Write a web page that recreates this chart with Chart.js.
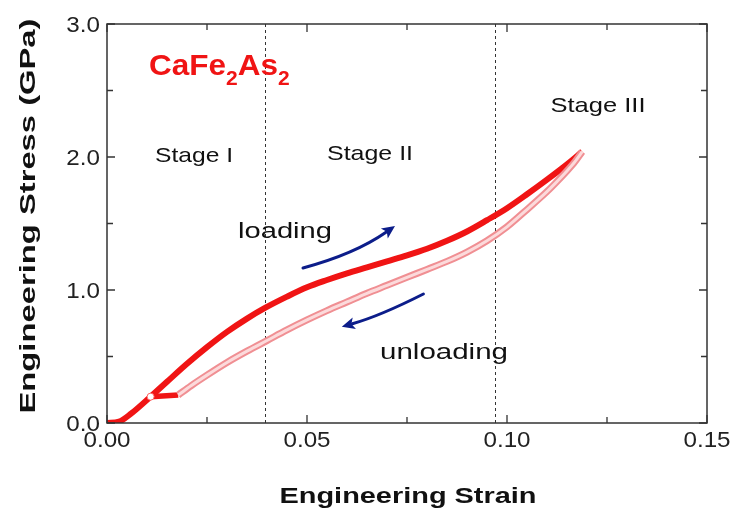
<!DOCTYPE html>
<html>
<head>
<meta charset="utf-8">
<script src="https://cdn.jsdelivr.net/npm/chart.js@4/dist/chart.umd.min.js"></script>
<style>
  html, body { margin: 0; padding: 0; background: #fff; }
  #wrap { width: 734px; height: 515px; }
</style>
</head>
<body>
<div id="wrap"><canvas id="curve" width="734" height="515"></canvas></div>
<script>
// Engineering stress-strain, loading branch (GPa vs strain)
const loadStrain = [0, 0.003, 0.006, 0.0109, 0.015, 0.020, 0.025, 0.030, 0.035, 0.0395, 0.045, 0.050, 0.055,
                    0.060, 0.065, 0.070, 0.075, 0.080, 0.085, 0.090, 0.095, 0.100, 0.105, 0.110, 0.115, 0.1188];
const loadStress = [0, 0.01, 0.07, 0.198, 0.31, 0.445, 0.57, 0.685, 0.785, 0.865, 0.95, 1.02, 1.075,
                    1.125, 1.17, 1.215, 1.26, 1.31, 1.37, 1.44, 1.525, 1.615, 1.72, 1.83, 1.945, 2.04];

// unloading branch, from peak back down
const unloadStrain = [0.1188, 0.117, 0.115, 0.112, 0.110, 0.105, 0.100, 0.095, 0.090, 0.085, 0.080, 0.075,
                      0.070, 0.065, 0.060, 0.055, 0.050, 0.045, 0.040, 0.035, 0.030, 0.025, 0.021, 0.0178];
const unloadStress = [2.04, 1.965, 1.895, 1.80, 1.74, 1.605, 1.475, 1.37, 1.285, 1.215, 1.155, 1.095,
                      1.035, 0.975, 0.91, 0.845, 0.775, 0.70, 0.62, 0.54, 0.455, 0.36, 0.28, 0.21];

// short segment closing the loop back onto the loading branch
const linkStrain = [0.0178, 0.0109];
const linkStress = [0.21, 0.198];
const markStrain = [0.0109];
const markStress = [0.198];

// stage boundaries
const stageBounds = [0.0395, 0.097];

const xTickLabels = ['0.00', '0.05', '0.10', '0.15'];
const yTickLabels = ['0.0', '1.0', '2.0', '3.0'];
const xMinor = [0.025, 0.075, 0.125];
const yMinor = [0.5, 1.5, 2.5];

// arrows: [start, control, tip] in data units
const loadArrow = [[0.049, 1.165], [0.062, 1.271], [0.072, 1.481]];
const unloadArrow = [[0.0791, 0.97], [0.06825, 0.805], [0.0587, 0.724]];

const pts = (xs, ys) => xs.map((x, i) => ({ x: x, y: ys[i] }));

const FONT = "'Liberation Sans', Arial, sans-serif";
const RED = '#f01414';
const NAVY = '#0c1d8a';

// draw text squeezed/stretched to a given width
function wideText(ctx, str, x, y, width, align) {
    const w = ctx.measureText(str).width;
    let left = x;
    if (align === 'center') left = x - width / 2;
    if (align === 'right') left = x - width;
    ctx.save();
    ctx.translate(left, y);
    ctx.scale(width / w, 1);
    ctx.textAlign = 'left';
    ctx.fillText(str, 0, 0);
    ctx.restore();
}

function drawArrow(ctx, xs, ys, arrow) {
    const p = arrow.map(a => [xs.getPixelForValue(a[0]), ys.getPixelForValue(a[1])]);
    const [p0, c, p2] = p;
    const dx = p2[0] - c[0], dy = p2[1] - c[1];
    const len = Math.hypot(dx, dy);
    const ux = dx / len, uy = dy / len;
    const headLen = 13, headW = 6;
    const bx = p2[0] - ux * headLen, by = p2[1] - uy * headLen;

    ctx.save();
    ctx.strokeStyle = NAVY;
    ctx.fillStyle = NAVY;
    ctx.lineWidth = 3;
    ctx.lineCap = 'round';
    ctx.beginPath();
    ctx.moveTo(p0[0], p0[1]);
    ctx.quadraticCurveTo(c[0], c[1], bx + ux * 2, by + uy * 2);
    ctx.stroke();
    ctx.beginPath();
    ctx.moveTo(p2[0], p2[1]);
    ctx.lineTo(bx - uy * headW, by + ux * headW);
    ctx.lineTo(bx + ux * 3, by + uy * 3);
    ctx.lineTo(bx + uy * headW, by - ux * headW);
    ctx.closePath();
    ctx.fill();
    ctx.restore();
}

const stageLines = {
    id: 'stageLines',
    beforeDatasetsDraw(chart) {
        const { ctx, chartArea: a, scales: { x } } = chart;
        ctx.save();
        ctx.strokeStyle = '#333';
        ctx.lineWidth = 1;
        ctx.setLineDash([3, 3]);
        stageBounds.forEach(v => {
            const px = Math.round(x.getPixelForValue(v)) + 0.5;
            ctx.beginPath();
            ctx.moveTo(px, a.top);
            ctx.lineTo(px, a.bottom);
            ctx.stroke();
        });
        ctx.restore();
    }
};

const frameAndText = {
    id: 'frameAndText',
    afterDatasetsDraw(chart) {
        const { ctx, chartArea: a, scales: { x, y } } = chart;
        ctx.save();

        // frame
        ctx.strokeStyle = '#333';
        ctx.lineWidth = 1.5;
        ctx.strokeRect(a.left, a.top, a.right - a.left, a.bottom - a.top);

        // inward ticks on all four sides
        ctx.lineWidth = 1.3;
        const major = 8, minor = 6;
        const xTicks = xTickLabels.map(Number).map(v => [v, major]).concat(xMinor.map(v => [v, minor]));
        const yTicks = yTickLabels.map(Number).map(v => [v, major]).concat(yMinor.map(v => [v, minor]));
        ctx.beginPath();
        xTicks.forEach(([v, l]) => {
            const px = x.getPixelForValue(v);
            ctx.moveTo(px, a.bottom); ctx.lineTo(px, a.bottom - l);
            ctx.moveTo(px, a.top); ctx.lineTo(px, a.top + l);
        });
        yTicks.forEach(([v, l]) => {
            const py = y.getPixelForValue(v);
            ctx.moveTo(a.left, py); ctx.lineTo(a.left + l, py);
            ctx.moveTo(a.right, py); ctx.lineTo(a.right - l, py);
        });
        ctx.stroke();

        // tick labels
        ctx.fillStyle = '#222';
        ctx.font = '22px ' + FONT;
        ctx.textBaseline = 'alphabetic';
        xTickLabels.forEach(t => {
            const px = x.getPixelForValue(Number(t));
            wideText(ctx, t, px, a.bottom + 24, ctx.measureText(t).width * 1.1, 'center');
        });
        yTickLabels.forEach(t => {
            const py = y.getPixelForValue(Number(t));
            wideText(ctx, t, a.left - 7, py + 8, ctx.measureText(t).width * 1.1, 'right');
        });

        // axis titles
        ctx.fillStyle = '#111';
        ctx.font = 'bold 22px ' + FONT;
        wideText(ctx, 'Engineering Strain', (a.left + a.right) / 2 + 1, 503, 257, 'center');
        ctx.save();
        ctx.translate(35, 216);
        ctx.rotate(-Math.PI / 2);
        wideText(ctx, 'Engineering Stress (GPa)', 0, 0, 395, 'center');
        ctx.restore();

        // stage names and branch labels
        ctx.fillStyle = '#111';
        ctx.font = '21px ' + FONT;
        wideText(ctx, 'Stage I', 194, 162, 78, 'center');
        wideText(ctx, 'Stage II', 370, 160, 86, 'center');
        wideText(ctx, 'Stage III', 598, 112, 95, 'center');
        ctx.font = '22px ' + FONT;
        wideText(ctx, 'loading', 285, 238, 94, 'center');
        wideText(ctx, 'unloading', 444, 359, 128, 'center');

        // compound name with subscripts
        ctx.fillStyle = RED;
        let cx = 149;
        const parts = [['CaFe', false], ['2', true], ['As', false], ['2', true]];
        parts.forEach(([s, sub]) => {
            ctx.font = (sub ? 'bold 20px ' : 'bold 30px ') + FONT;
            const w = ctx.measureText(s).width * 1.05;
            wideText(ctx, s, cx, sub ? 85 : 75, w, 'left');
            cx += w;
        });

        drawArrow(ctx, x, y, loadArrow);
        drawArrow(ctx, x, y, unloadArrow);

        ctx.restore();
    }
};

new Chart(document.getElementById('curve'), {
    type: 'scatter',
    data: {
        datasets: [
            {
                label: 'marker',
                data: pts(markStrain, markStress),
                showLine: false,
                pointRadius: 3.5,
                pointBackgroundColor: '#fff',
                pointBorderColor: '#f66',
                pointBorderWidth: 1,
                order: -1
            },
            {
                label: 'unloading inner',
                data: pts(unloadStrain, unloadStress),
                showLine: true,
                borderColor: '#fcdadb',
                borderWidth: 3,
                cubicInterpolationMode: 'monotone',
                pointRadius: 0,
                order: 0
            },
            {
                label: 'unloading',
                data: pts(unloadStrain, unloadStress),
                showLine: true,
                borderColor: '#f08f93',
                borderWidth: 7,
                cubicInterpolationMode: 'monotone',
                pointRadius: 0,
                order: 1
            },
            {
                label: 'loading',
                data: pts(loadStrain, loadStress),
                showLine: true,
                borderColor: RED,
                borderWidth: 6,
                cubicInterpolationMode: 'monotone',
                pointRadius: 0,
                order: 2
            },
            {
                label: 'link',
                data: pts(linkStrain, linkStress),
                showLine: true,
                borderColor: RED,
                borderWidth: 5.5,
                pointRadius: 0,
                order: 2
            }
        ]
    },
    options: {
        responsive: false,
        animation: false,
        layout: { padding: { left: 107, right: 27, top: 24, bottom: 92 } },
        scales: {
            x: { type: 'linear', min: 0, max: 0.15, display: false },
            y: { type: 'linear', min: 0, max: 3, display: false }
        },
        plugins: {
            legend: { display: false },
            tooltip: { enabled: false }
        }
    },
    plugins: [stageLines, frameAndText]
});
</script>
</body>
</html>
